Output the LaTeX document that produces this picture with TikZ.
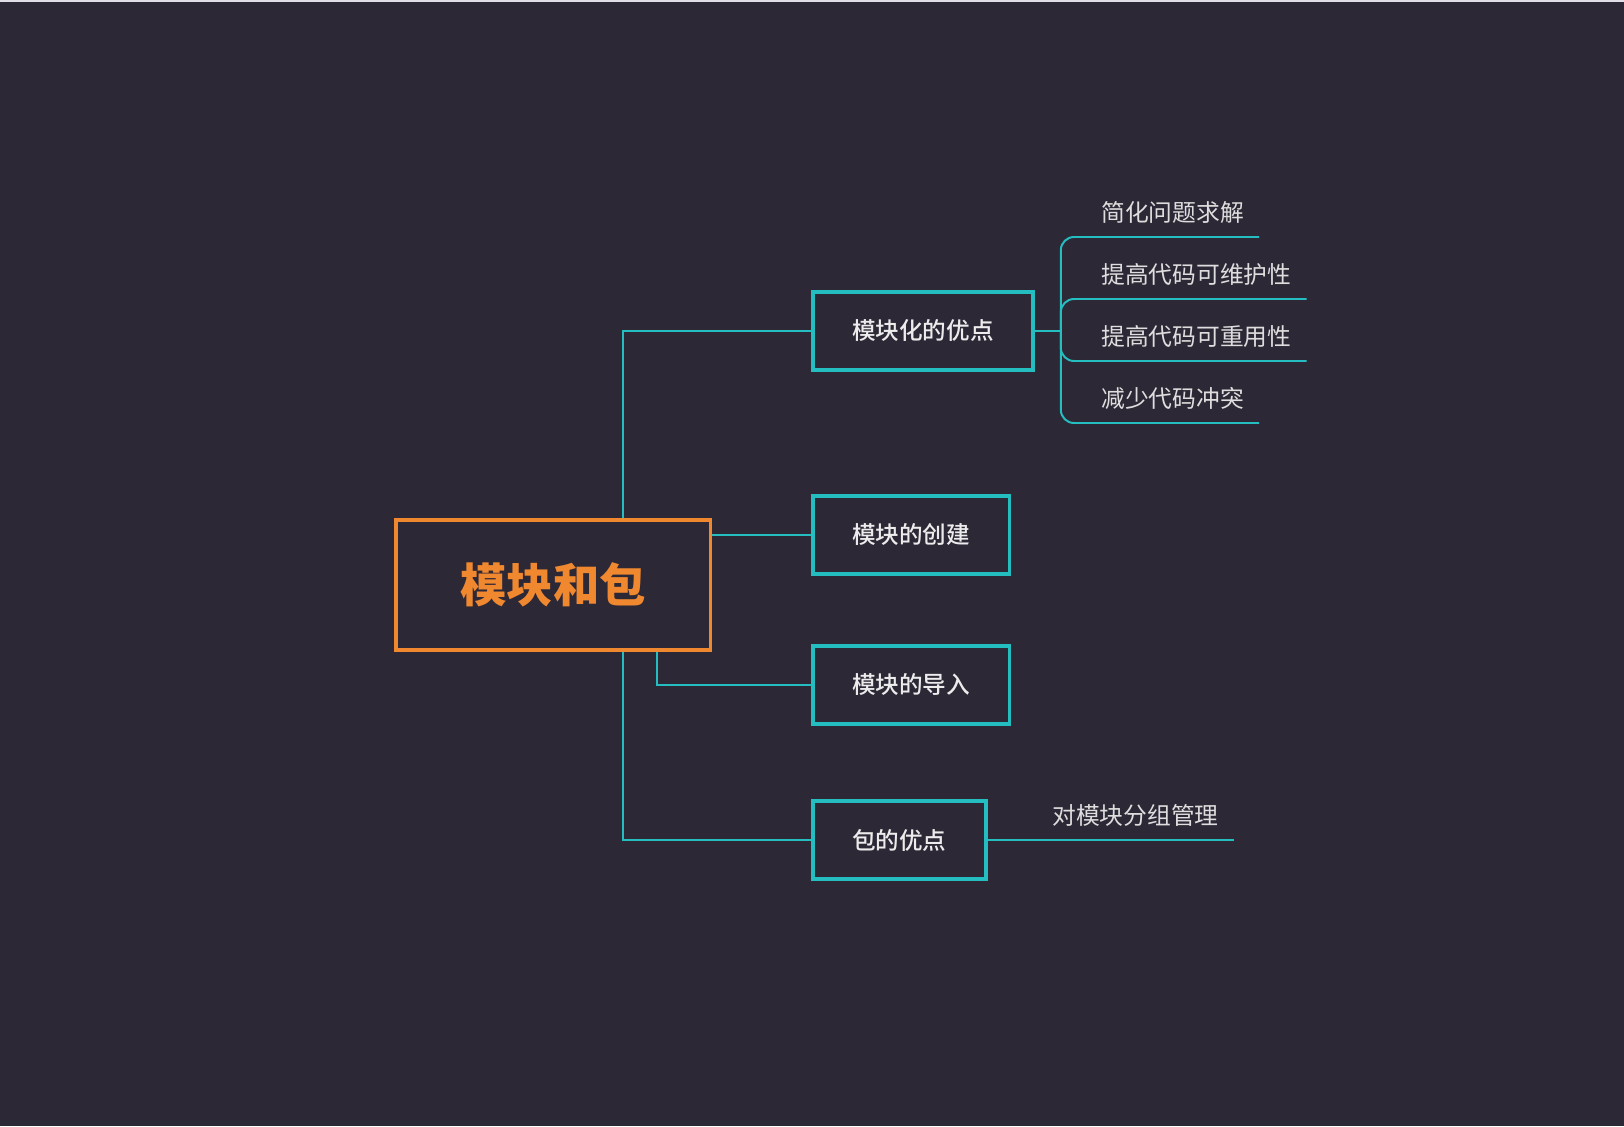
\documentclass[tikz,border=0pt]{standalone}
\usepackage{fontspec}
\setmainfont{Noto Sans CJK SC}
\newfontfamily\medfont{Noto Sans CJK SC Medium}
\usepackage{tikz}
\usetikzlibrary{calc,positioning}
\definecolor{bgcolor}{RGB}{45,40,54}
\definecolor{topcolor}{RGB}{226,222,232}
\definecolor{tealcolor}{RGB}{36,190,192}
\definecolor{rootcolor}{RGB}{240,136,48}
\definecolor{textcolor}{RGB}{236,236,236}
\definecolor{leafcolor}{RGB}{222,222,222}

\begin{document}
\begin{tikzpicture}[
    x=0.025cm, y=-0.025cm,
    root/.style={rectangle, draw=rootcolor, line width=2.2pt, minimum width=7.85cm, minimum height=3.25cm, align=center, text=rootcolor, font=\fontsize{33pt}{38pt}\selectfont\bfseries},
    topic/.style={rectangle, draw=tealcolor, line width=2.6pt, inner xsep=0.98cm, minimum height=1.95cm, anchor=west, text=textcolor, font=\fontsize{16.8pt}{20pt}\selectfont\medfont},
    leaf/.style={inner sep=0.375cm, text depth=0pt, anchor=south west, text=leafcolor, font=\fontsize{16.9pt}{20pt}\selectfont},
    link/.style={draw=tealcolor, line width=1.4pt},
    branch/.style={link, rounded corners=0.33cm}
]

% background
\fill[bgcolor] (0,0) rectangle (1624,1126);
\fill[topcolor] (0,0) rectangle (1624,2);

\node[root] (root) at (553,585) {模块和包};

\node[topic] (merit) at (811,331) {模块化的优点};
\node[topic] (create) at (811,535) {模块的创建};
\node[topic] (import) at (811,685) {模块的导入};
\node[topic] (pkg) at (811,840) {包的优点};

\node[leaf] (simple) at (1086,237) {简化问题求解};
\node[leaf] (maint) at (1086,299) {提高代码可维护性};
\node[leaf] (reuse) at (1086,361) {提高代码可重用性};
\node[leaf] (clash) at (1086,423) {减少代码冲突};
\node[leaf] (group) at (1037,840) {对模块分组管理};

\coordinate (fork) at ($(merit.east)+(26,0)$);

\draw[link] ($(root.north)+(70,0)$) |- (merit.west);
\draw[link] (create.west -| root.east) -- (create.west);
\draw[link] ($(root.south)+(104,0)$) |- (import.west);
\draw[link] ($(root.south)+(70,0)$) |- (pkg.west);

\draw[link] (merit.east) -- (fork);
\draw[branch] (fork) |- (simple.south east);
\draw[branch] (fork) |- (maint.south east);
\draw[branch] (fork) |- (reuse.south east);
\draw[branch] (fork) |- (clash.south east);
\draw[link] (pkg.east) -- (group.south east);

\end{tikzpicture}
\end{document}
